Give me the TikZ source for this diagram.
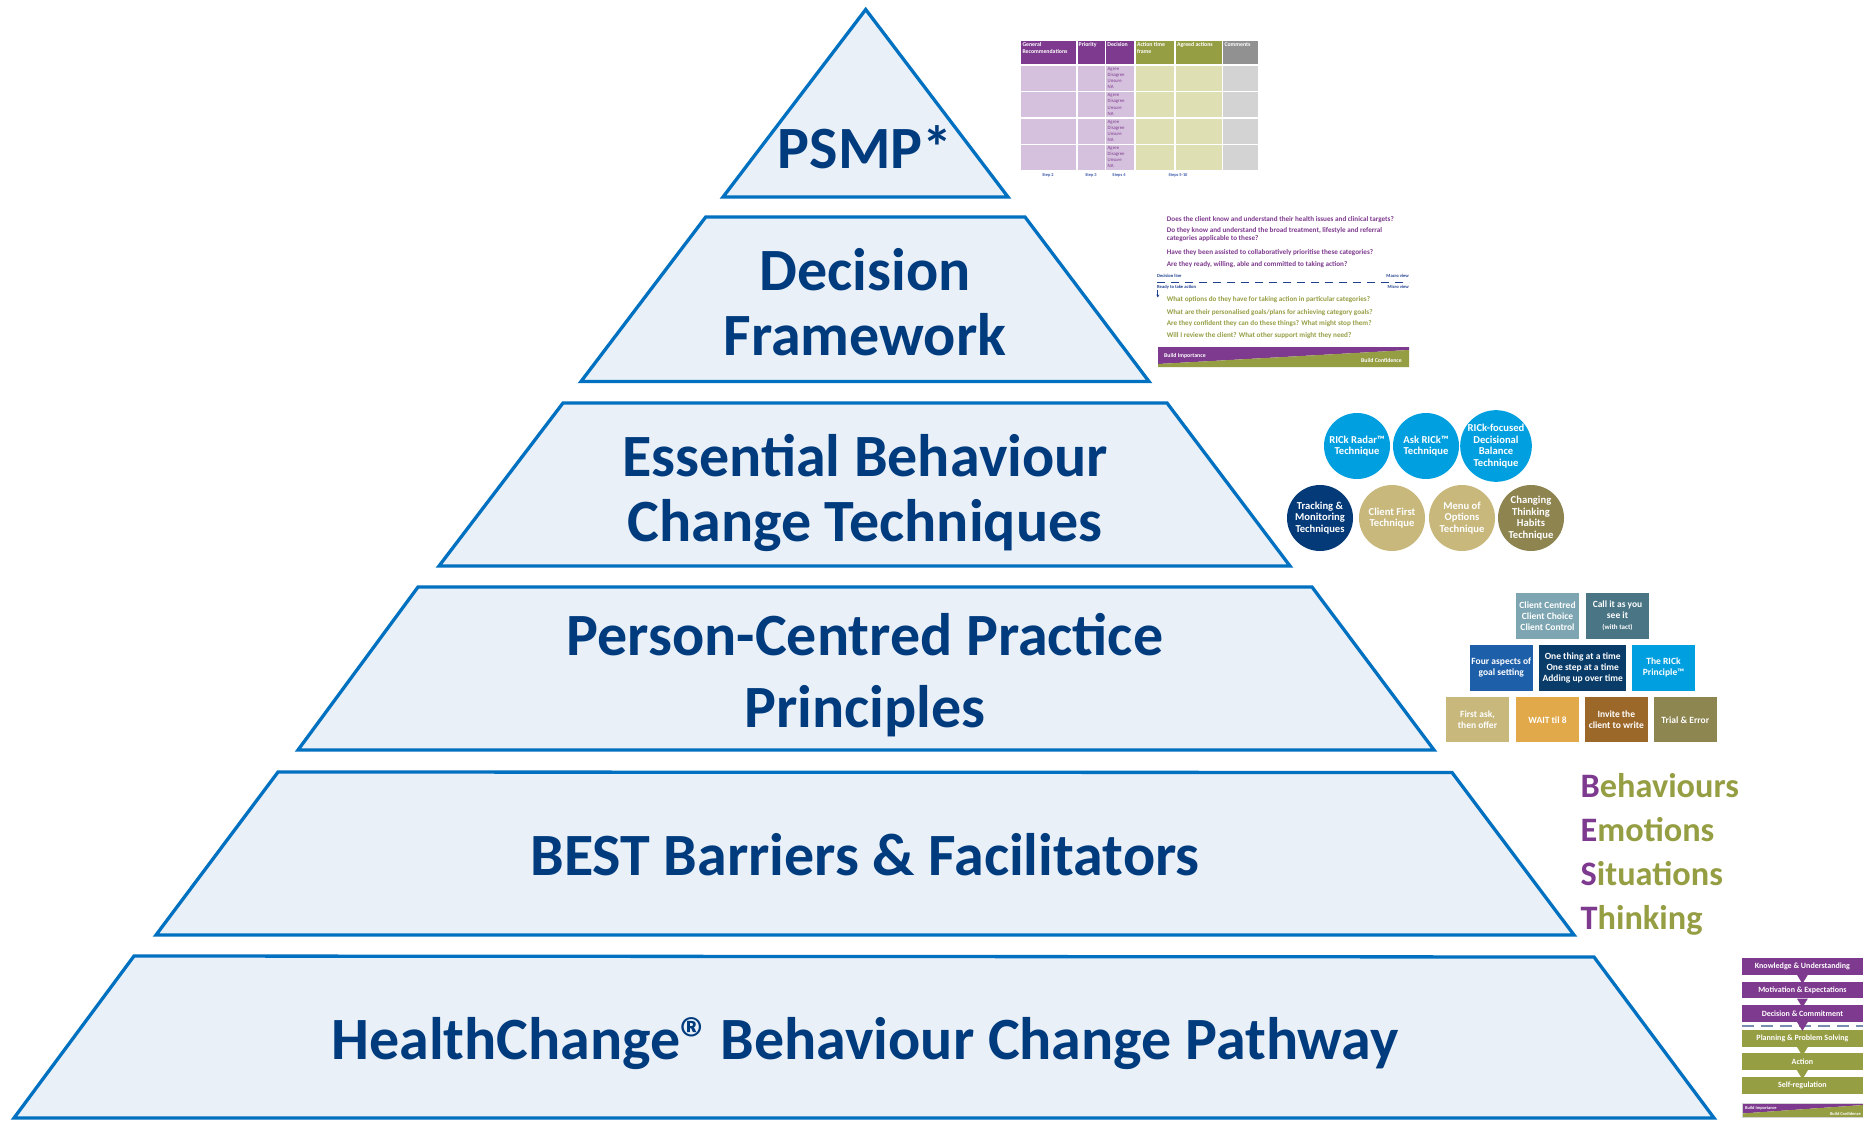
\documentclass[tikz,border=0pt]{standalone}
\usepackage{fontspec}
\setmainfont{Carlito}
\usetikzlibrary{arrows.meta,calc}
\definecolor{tierline}{RGB}{0,112,192}
\definecolor{tierfill}{RGB}{234,240,248}
\definecolor{tiertext}{RGB}{0,59,126}
\definecolor{hcpurple}{RGB}{126,58,142}
\definecolor{hcolive}{RGB}{150,158,68}
\definecolor{hcgrey}{RGB}{145,145,145}
\definecolor{lpurple}{RGB}{213,193,221}
\definecolor{lolive}{RGB}{222,224,180}
\definecolor{lgrey}{RGB}{211,211,211}
\definecolor{stepblue}{RGB}{60,90,170}
\definecolor{dlnavy}{RGB}{31,63,143}
\definecolor{cblue}{RGB}{0,160,224}
\definecolor{cnavy}{RGB}{5,58,120}
\definecolor{ctan}{RGB}{200,184,124}
\definecolor{cbrown}{RGB}{142,132,80}
\definecolor{bteal}{RGB}{125,166,178}
\definecolor{bdteal}{RGB}{74,117,133}
\definecolor{bblue}{RGB}{30,95,170}
\definecolor{bnavy}{RGB}{10,60,105}
\definecolor{bgold}{RGB}{225,169,74}
\definecolor{bbrown}{RGB}{155,104,42}
\definecolor{bolive}{RGB}{142,134,80}
\definecolor{dashgrey}{RGB}{120,140,175}
\newcommand{\fsz}[2]{\fontsize{#1}{#2}\selectfont}
\begin{document}
\begin{tikzpicture}[x=1pt,y=-1pt,
  tier/.style={draw=tierline,fill=tierfill,line width=3.3,line join=miter},
  tiertext/.style={anchor=base,text=tiertext,font=\fsz{60}{66}\bfseries,inner sep=0},
  hdr/.style={anchor=north west,align=left,inner sep=0,text=white,font=\fsz{5.8}{6.6}\bfseries},
  dcell/.style={anchor=north west,align=left,inner sep=0,text=hcpurple,font=\fsz{4.8}{6.1}},
  steplbl/.style={anchor=base,inner sep=0,text=stepblue,font=\fsz{4.4}{5}\bfseries},
  qpurple/.style={anchor=base west,inner sep=0,text=hcpurple,font=\fsz{7.15}{8}\bfseries},
  qolive/.style={anchor=base west,inner sep=0,text=hcolive,font=\fsz{7.15}{8}\bfseries},
  tinynavy/.style={inner sep=0,text=dlnavy,font=\fsz{4.6}{5}\bfseries},
  buildtxt/.style={inner sep=0,text=white,font=\fsz{5.8}{6}\bfseries},
  circ/.style={circle,minimum size=66,inner sep=0,align=center,text=white,font=\fsz{10.6}{11.7}\bfseries},
  pbox/.style={minimum width=63,minimum height=45.5,inner sep=0,align=center,text=white,font=\fsz{9.5}{11}\bfseries},
  pbar/.style={minimum width=121.3,minimum height=16.6,inner sep=0,text=white,font=\fsz{8}{8.5}\bfseries},
  best/.style={anchor=base west,inner sep=0,text=hcolive,font=\fsz{34.3}{38}\bfseries}]
\useasboundingbox (0,0) rectangle (1863,1121);
\fill[white] (0,0) rectangle (1863,1121);

% ---------- pyramid tiers ----------
\draw[tier] (865.7,9.5) -- (1008,197) -- (723,197) -- cycle;
\draw[tier] (705.7,217) -- (1025,217) -- (1149,381.5) -- (581,381.5) -- cycle;
\draw[tier] (563,403) -- (1167,403) -- (1290,566) -- (439,566) -- cycle;
\draw[tier] (418,587) -- (1312,587) -- (1434,750) -- (298,750) -- cycle;
\draw[tier] (278,772) -- (1452,772.5) -- (1574,935) -- (156,935) -- cycle;
\draw[tier] (134,956) -- (1594,957) -- (1714,1118) -- (14,1118) -- cycle;

\node[tiertext] (t1) at (865,168) {PSMP*};
\node[tiertext] (t2a) at (865,290) {Decision};
\node[tiertext] (t2b) at (865,355) {Framework};
\node[tiertext] (t3a) at (865,476) {Essential Behaviour};
\node[tiertext] (t3b) at (865,541) {Change Techniques};
\node[tiertext] (t4a) at (865,655) {Person-Centred Practice};
\node[tiertext] (t4b) at (865,727) {Principles};
\node[tiertext] (t5) at (865,875) {BEST Barriers \& Facilitators};
\node[tiertext] (t6) at (865,1059) {HealthChange®\kern-4pt\ Behaviour Change Pathway};

% ---------- PSMP table ----------
\foreach \xa/\xb/\hc/\bc in {1021/1076/hcpurple/lpurple,1077.5/1105/hcpurple/lpurple,1106/1134/hcpurple/lpurple,1135.5/1174/hcolive/lolive,1175.5/1221.5/hcolive/lolive,1223/1257.5/hcgrey/lgrey}{
  \fill[\hc] (\xa,41) rectangle (\xb,64.5);
  \foreach \r in {0,1,2,3}{\fill[\bc] (\xa,{65.8+\r*26.4}) rectangle (\xb,{65.8+\r*26.4+25});}
}
\node[hdr] (h1) at (1022.3,42.3) {General\\Recommendations};
\node[hdr] (h2) at (1078.5,42.3) {Priority};
\node[hdr] (h3) at (1107.2,42.3) {Decision};
\node[hdr] (h4) at (1136.8,42.3) {Action time\\frame};
\node[hdr] (h5) at (1176.8,42.3) {Agreed actions};
\node[hdr] (h6) at (1224.3,42.3) {Comments};
\foreach \r in {0,1,2,3}{
  \node[dcell] (dc\r) at (1107.5,{67.2+\r*26.4}) {Agree\\Disagree\\Unsure\\NA};
}
\node[steplbl] (s1) at (1048,176) {Step 2};
\node[steplbl] (s2) at (1091,176) {Step 3};
\node[steplbl] (s3) at (1119,176) {Steps 4};
\node[steplbl] (s4) at (1178,176) {Steps 5-10};

% ---------- Decision framework panel ----------
\node[qpurple] (q1) at (1166.7,221.5) {Does the client know and understand their health issues and clinical targets?};
\node[qpurple] (q2) at (1166.7,232.5) {Do they know and understand the broad treatment, lifestyle and referral};
\node[qpurple] (q2b) at (1166.7,240.7) {categories applicable to these?};
\node[qpurple] (q3) at (1166.7,254.5) {Have they been assisted to collaboratively prioritise these categories?};
\node[qpurple] (q4) at (1166.7,266.7) {Are they ready, willing, able and committed to taking action?};
\node[tinynavy,anchor=base west] (dl) at (1157,277.5) {Decision line};
\node[tinynavy,anchor=base east] (mac) at (1409,277.5) {Macro view};
\node[tinynavy,anchor=base west] (rta) at (1157,288.5) {Ready to take action};
\node[tinynavy,anchor=base east] (mic) at (1409,288.5) {Micro view};
\coordinate (dlA) at (1157,282.3);
\coordinate (dlB) at (1409,282.3);
\draw[dlnavy,line width=1.4,dash pattern=on 8 off 6] (dlA) -- (dlB);
\coordinate (arA) at (1157.8,289.5);
\coordinate (arB) at (1157.8,297.5);
\draw[dlnavy,line width=0.8,-{Stealth[length=3,width=3]}] (arA) -- (arB);
\node[qolive] (q5) at (1166.7,301.5) {What options do they have for taking action in particular categories?};
\node[qolive] (q6) at (1166.7,314.5) {What are their personalised goals/plans for achieving category goals?};
\node[qolive] (q7) at (1166.7,325.7) {Are they confident they can do these things? What might stop them?};
\node[qolive] (q8) at (1166.7,337.2) {Will I review the client? What other support might they need?};
\fill[hcpurple] (1158,347) -- (1409,347) -- (1409,350) -- (1158,364) -- cycle;
\fill[hcolive] (1158,364) -- (1409,350) -- (1409,367) -- (1158,367) -- cycle;
\node[buildtxt,anchor=base west] (bi1) at (1164,357) {Build Importance};
\node[buildtxt,anchor=base east] (bc1) at (1402,362.5) {Build Confidence};

% ---------- technique circles ----------
\node[circ,fill=cblue] (c1) at (1357,446) {RICk Radar™\\Technique};
\node[circ,fill=cblue] (c2) at (1426,446) {Ask RICk™\\Technique};
\node[circ,fill=cblue] (c3) at (1496,446) {RICk-focused\\Decisional\\Balance\\Technique};
\node[circ,fill=cnavy] (c4) at (1320,518) {Tracking \&\\Monitoring\\Techniques};
\node[circ,fill=ctan] (c5) at (1392,518) {Client First\\Technique};
\node[circ,fill=ctan] (c6) at (1462,518) {Menu of\\Options\\Technique};
\node[circ,fill=cbrown] (c7) at (1531,518) {Changing\\Thinking\\Habits\\Technique};

% ---------- principle boxes ----------
\node[pbox,fill=bteal] (b1) at (1547.5,615.8) {Client Centred\\Client Choice\\Client Control};
\node[pbox,fill=bdteal] (b2) at (1617.5,615.8) {Call it as you\\see it\\{\fsz{7}{9}(with tact)}};
\node[pbox,fill=bblue,minimum width=62.7] (b3) at (1501.3,667.8) {Four aspects of\\goal setting};
\node[pbox,fill=bnavy,minimum width=86.7] (b4) at (1582.7,667.8) {One thing at a time\\One step at a time\\Adding up over time};
\node[pbox,fill=cblue] (b5) at (1663.5,667.8) {The RICk\\Principle™};
\node[pbox,fill=ctan] (b6) at (1477.5,719.7) {First ask,\\then offer};
\node[pbox,fill=bgold] (b7) at (1547.5,719.7) {WAIT til 8};
\node[pbox,fill=bbrown] (b8) at (1616.3,719.7) {Invite the\\client to write};
\node[pbox,fill=bolive] (b9) at (1685.3,719.7) {Trial \& Error};

% ---------- BEST ----------
\node[best] (w1) at (1580.5,797) {{\color{hcpurple}B}ehaviours};
\node[best] (w2) at (1580.5,841) {{\color{hcpurple}E}motions};
\node[best] (w3) at (1580.5,885) {{\color{hcpurple}S}ituations};
\node[best] (w4) at (1580.5,929) {{\color{hcpurple}T}hinking};

% ---------- pathway ----------
\coordinate (pdA) at (1742,1026);
\coordinate (pdB) at (1863,1026);
\draw[dashgrey,line width=1.2,dash pattern=on 12 off 7] (pdA) -- (pdB);
\node[pbar,fill=hcpurple] (p1) at (1802.4,966.2) {Knowledge \& Understanding};
\node[pbar,fill=hcpurple] (p2) at (1802.4,990) {Motivation \& Expectations};
\node[pbar,fill=hcpurple] (p3) at (1802.4,1013.3) {Decision \& Commitment};
\node[pbar,fill=hcolive] (p4) at (1802.4,1038.3) {Planning \& Problem Solving};
\node[pbar,fill=hcolive] (p5) at (1802.4,1061.7) {Action};
\node[pbar,fill=hcolive] (p6) at (1802.4,1085.3) {Self-regulation};
\foreach \a/\c in {p1/hcpurple,p2/hcpurple,p3/hcpurple,p4/hcolive,p5/hcolive}{
  \fill[\c] ($(\a.south)+(-5.5,0)$) -- ($(\a.south)+(5.5,0)$) -- ($(\a.south)+(0,9)$) -- cycle;
}
\fill[hcpurple] (1742,1103) -- (1863,1103) -- (1863,1105) -- (1742,1113.5) -- cycle;
\fill[hcolive] (1742,1113.5) -- (1863,1105) -- (1863,1117) -- (1742,1117) -- cycle;
\draw[lgrey,line width=0.6] (1742,1103) rectangle (1863,1117);
\node[buildtxt,font=\fsz{4.4}{5}\bfseries,anchor=base west] (bi2) at (1745,1109) {Build Importance};
\node[buildtxt,font=\fsz{4.4}{5}\bfseries,anchor=base east] (bc2) at (1861,1115) {Build Confidence};
\end{tikzpicture}
\end{document}
